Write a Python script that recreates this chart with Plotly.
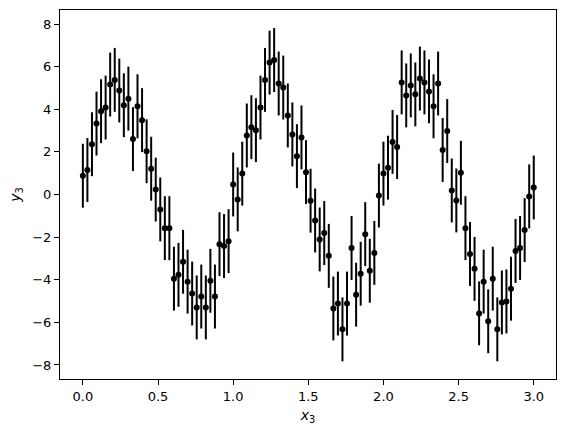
import plotly.graph_objects as go

n_points = 100
x_start, x_stop = 0.0, 3.0
x3 = [x_start + i * (x_stop - x_start) / (n_points - 1) for i in range(n_points)]

y3 = [
    0.88, 1.15, 2.36, 3.33, 3.91, 4.08, 5.16, 5.38, 4.88, 4.19,
    4.50, 2.60, 4.14, 3.49, 2.03, 1.21, 0.23, -0.70, -1.58, -1.58,
    -3.95, -3.77, -3.16, -4.09, -4.65, -5.30, -4.79, -5.30, -4.05, -4.79,
    -2.33, -2.42, -2.19, 0.47, -0.23, 0.98, 2.77, 3.16, 3.02, 4.08,
    5.38, 6.19, 6.31, 5.21, 5.02, 3.71, 2.82, 1.80, 2.68, 1.05,
    -0.29, -1.22, -2.11, -1.81, -2.88, -5.35, -5.12, -6.33, -5.12, -2.51,
    -4.70, -3.72, -1.86, -3.58, -2.74, -0.05, 0.98, 1.26, 2.47, 2.23,
    5.26, 4.65, 5.12, 4.70, 5.44, 5.26, 4.84, 4.14, 5.21, 2.09,
    2.98, 0.19, -0.28, 1.02, -1.58, -2.79, -3.49, -5.58, -4.09, -5.95,
    -3.95, -6.33, -5.07, -5.02, -4.42, -2.65, -2.51, -1.67, -0.09, 0.33,
]

y_err = [1.5] * n_points

x_ticks = [0.0, 0.5, 1.0, 1.5, 2.0, 2.5, 3.0]
y_ticks = [-8, -6, -4, -2, 0, 2, 4, 6, 8]

fig = go.Figure()
fig.add_trace(go.Scatter(
    x=x3, y=y3, mode="markers",
    marker=dict(color="black", size=6),
    error_y=dict(type="data", array=y_err, visible=True,
                 color="black", thickness=2, width=0),
    showlegend=False,
))

axis_common = dict(
    showgrid=False, zeroline=False,
    showline=True, linecolor="black", linewidth=1, mirror=True,
    ticks="outside", ticklen=5, tickwidth=1, tickcolor="black",
    tickfont=dict(family="DejaVu Sans", size=13, color="black"),
)

fig.update_layout(
    width=566, height=432,
    margin=dict(l=60, r=10, t=10, b=53),
    paper_bgcolor="white", plot_bgcolor="white",
    font=dict(family="DejaVu Sans", size=13, color="black"),
    xaxis=dict(range=[-0.152, 3.148], tickvals=x_ticks, tickformat=".1f",
               title=dict(text="<i>x</i><sub>3</sub>", standoff=7,
                          font=dict(family="DejaVu Sans", size=14)),
               **axis_common),
    yaxis=dict(range=[-8.66, 8.66], tickvals=y_ticks,
               title=dict(text="<i>y</i><sub>3</sub>", standoff=8,
                          font=dict(family="DejaVu Sans", size=14)),
               **axis_common),
)

fig.write_html("out.html")
